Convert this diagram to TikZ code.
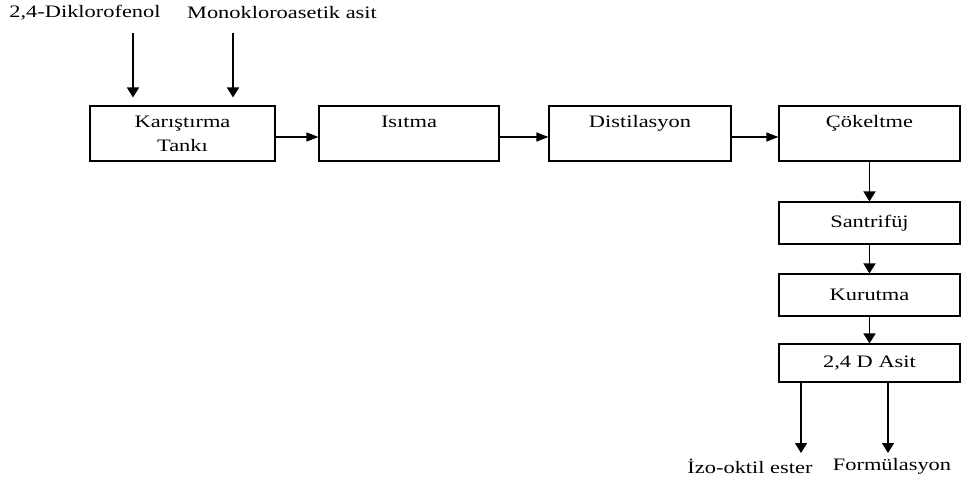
\documentclass[tikz,border=0pt]{standalone}
\usepackage{fontspec}
\setmainfont[FakeStretch=1.28]{Liberation Serif}
\usetikzlibrary{arrows.meta}
\begin{document}
\begin{tikzpicture}[x=1pt,y=-1pt,
  every node/.style={font=\fontsize{17.5}{24}\selectfont},
  procbox/.style={draw, line width=1.1pt, inner sep=0pt, align=center, minimum width=181pt},
  bigbox/.style={procbox, minimum height=55pt},
  smallbox/.style={procbox, minimum height=42pt},
  lbl/.style={inner sep=0pt},
  harrow/.style={line width=1.1pt, -{Triangle[length=12pt,width=9pt]}},
  varrow/.style={line width=1.6pt, -{Triangle[length=10pt,width=12pt]}}
]
\useasboundingbox (0,0) rectangle (967,480);
% top inputs
\node[lbl] (t1) at (85,13) {2,4-Diklorofenol};
\node[lbl] (t2) at (282,13) {Monokloroasetik asit};
\coordinate (s1) at (133,33);
\coordinate (s2) at (233,33);
% main row
\node[bigbox, minimum width=185pt] (b1) at (182.5,133.5) {Karıştırma\\Tankı};
\node[bigbox, minimum width=180pt] (b2) at (409,133.5) {Isıtma\\\mbox{}};
\node[bigbox, minimum width=182pt] (b3) at (640,133.5) {Distilasyon\\\mbox{}};
\node[bigbox] (b4) at (869.5,133.5) {Çökeltme\\\mbox{}};
% column
\node[smallbox] (b5) at (869.5,223) {Santrifüj};
\node[smallbox] (b6) at (869.5,295) {Kurutma};
\node[smallbox, minimum height=38pt] (b7) at (869.5,363) {2,4 D Asit};
% outputs
\coordinate (e1) at (801,453);
\coordinate (e2) at (888,453);
\node[lbl] (o1) at (750,466) {İzo-oktil ester};
\node[lbl] (o2) at (892,466) {Formülasyon};
% connectors
\draw[varrow, shorten >=8pt] (s1) -- (s1 |- b1.north);
\draw[varrow, shorten >=8pt] (s2) -- (s2 |- b1.north);
\draw[harrow] ([yshift=-3.5pt]b1.east) -- ([yshift=-3.5pt]b2.west);
\draw[harrow] ([yshift=-3.5pt]b2.east) -- ([yshift=-3.5pt]b3.west);
\draw[harrow] ([yshift=-3.5pt]b3.east) -- ([yshift=-3.5pt]b4.west);
\draw[varrow] (b4.south) -- (b5.north);
\draw[varrow] (b5.south) -- (b6.north);
\draw[varrow] (b6.south) -- (b7.north);
\draw[varrow] (e1 |- b7.south) -- (e1);
\draw[varrow] (e2 |- b7.south) -- (e2);
\end{tikzpicture}
\end{document}
